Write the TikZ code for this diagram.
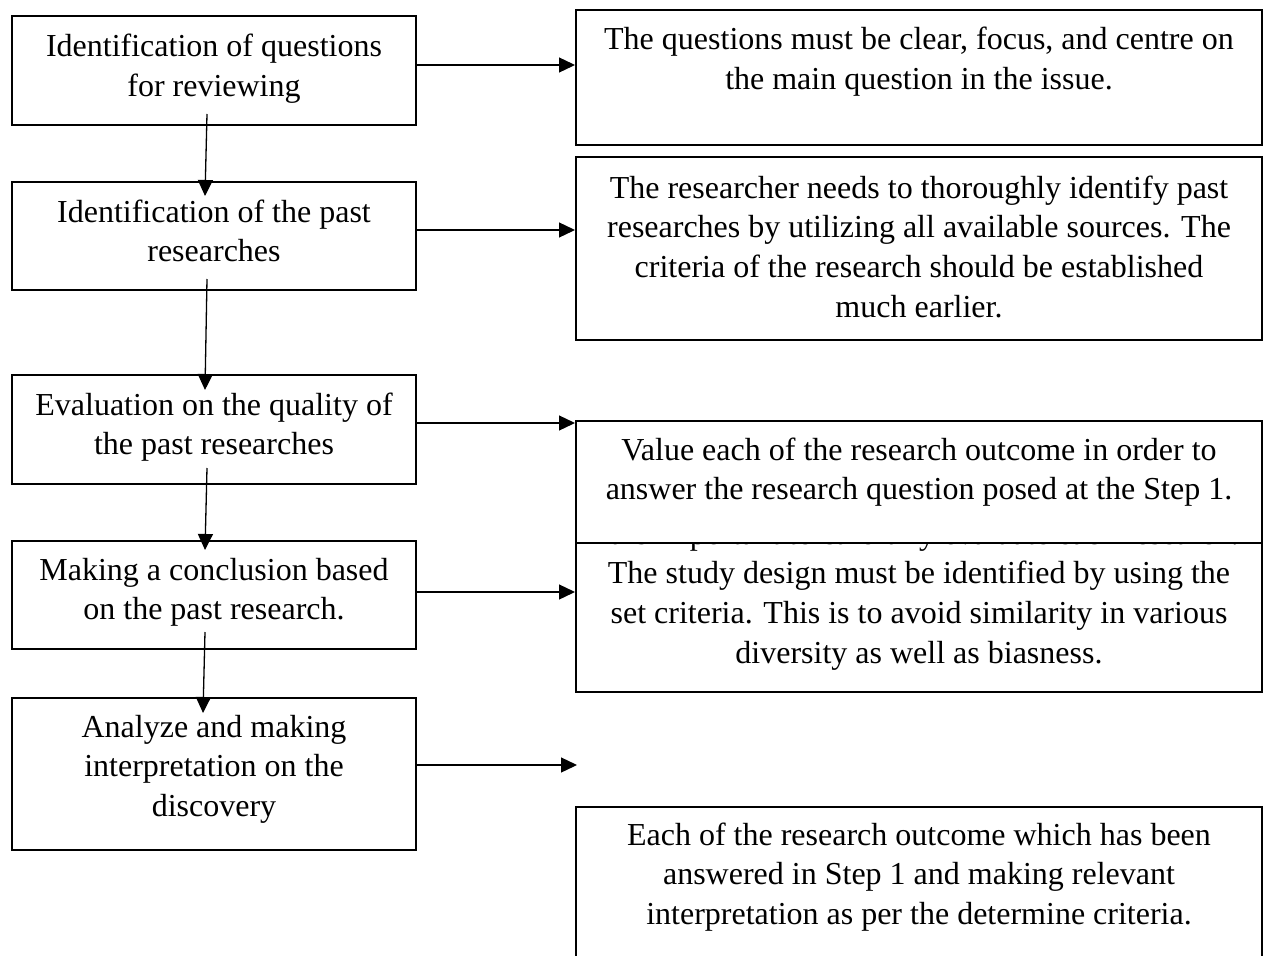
\documentclass[tikz,border=0pt]{standalone}
\usepackage{fontspec}
\setmainfont{Liberation Serif}
\usetikzlibrary{arrows.meta,fit}
\begin{document}
\begin{tikzpicture}[x=1pt,y=-1pt,
  box/.style={draw=black,line width=1.3pt,inner sep=0pt,fill=white},
  txt/.style={inner sep=0pt,anchor=base,font=\fontsize{32}{39.7}\selectfont},
  arr/.style={line width=1.3pt,-{Triangle[length=16pt,width=15pt]}}]
\useasboundingbox (0,0) rectangle (1265,955);
\clip (0,0) rectangle (1265,955);
% left column
\node[box,fit={(12,16)(416,125)}] (b1) {};
\node[txt] (t1) at (214,57) {\parbox[t]{400pt}{\centering Identification of questions\\for reviewing}};
\node[box,fit={(12,182)(416,290)}] (b2) {};
\node[txt] (t2) at (214,222) {\parbox[t]{400pt}{\centering Identification of the past\\researches}};
\node[box,fit={(12,375)(416,484)}] (b3) {};
\node[txt] (t3) at (214,415) {\parbox[t]{400pt}{\centering Evaluation on the quality of\\the past researches}};
\node[box,fit={(12,541)(416,649)}] (b4) {};
\node[txt] (t4) at (214,580) {\parbox[t]{400pt}{\centering Making a conclusion based\\on the past research.}};
\node[box,fit={(12,698)(416,850)}] (b5) {};
\node[txt] (t5) at (214,737) {\parbox[t]{400pt}{\centering Analyze and making\\interpretation on the\\discovery}};
% right column
\node[box,fit={(576,10)(1262,145)}] (r1) {};
\node[txt] (s1) at (919,50) {\parbox[t]{680pt}{\centering The questions must be clear, focus, and centre on\\the main question in the issue.}};
\node[box,fit={(576,157)(1262,340)}] (r2) {};
\node[txt] (s2) at (919,198) {\parbox[t]{680pt}{\centering The researcher needs to thoroughly identify past\\researches by utilizing all available sources. The\\criteria of the research should be established\\much earlier.}};
\node[box,fit={(576,503)(1262,692)}] (r4) {};
\node[txt] (s4) at (919,544) {\parbox[t]{680pt}{\centering It is important to carefully evaluate each research.\\The study design must be identified by using the\\set criteria. This is to avoid similarity in various\\diversity as well as biasness.}};
\node[box,fit={(576,421)(1262,543)}] (r3) {};
\node[txt] (s3) at (919,460) {\parbox[t]{680pt}{\centering Value each of the research outcome in order to\\answer the research question posed at the Step 1.}};
\node[box,fit={(576,807)(1262,990)}] (r5) {};
\node[txt] (s5) at (919,845) {\parbox[t]{680pt}{\centering Each of the research outcome which has been\\answered in Step 1 and making relevant\\interpretation as per the determine criteria.}};
% connector end points
\coordinate (v1a) at (207,114); \coordinate (v1b) at (205,196);
\coordinate (v2a) at (207,279); \coordinate (v2b) at (205,390);
\coordinate (v3a) at (207,468); \coordinate (v3b) at (205,550);
\coordinate (v4a) at (205,632); \coordinate (v4b) at (203,713);
\coordinate (h1a) at (416,65);  \coordinate (h1b) at (575,65);
\coordinate (h2a) at (416,230); \coordinate (h2b) at (575,230);
\coordinate (h3a) at (416,423); \coordinate (h3b) at (575,423);
\coordinate (h4a) at (416,592); \coordinate (h4b) at (575,592);
\coordinate (h5a) at (416,765); \coordinate (h5b) at (577,765);
\draw[arr] (v1a) -- (v1b);
\draw[arr] (v2a) -- (v2b);
\draw[arr] (v3a) -- (v3b);
\draw[arr] (v4a) -- (v4b);
\draw[arr] (h1a) -- (h1b);
\draw[arr] (h2a) -- (h2b);
\draw[arr] (h3a) -- (h3b);
\draw[arr] (h4a) -- (h4b);
\draw[arr] (h5a) -- (h5b);
\end{tikzpicture}
\end{document}
